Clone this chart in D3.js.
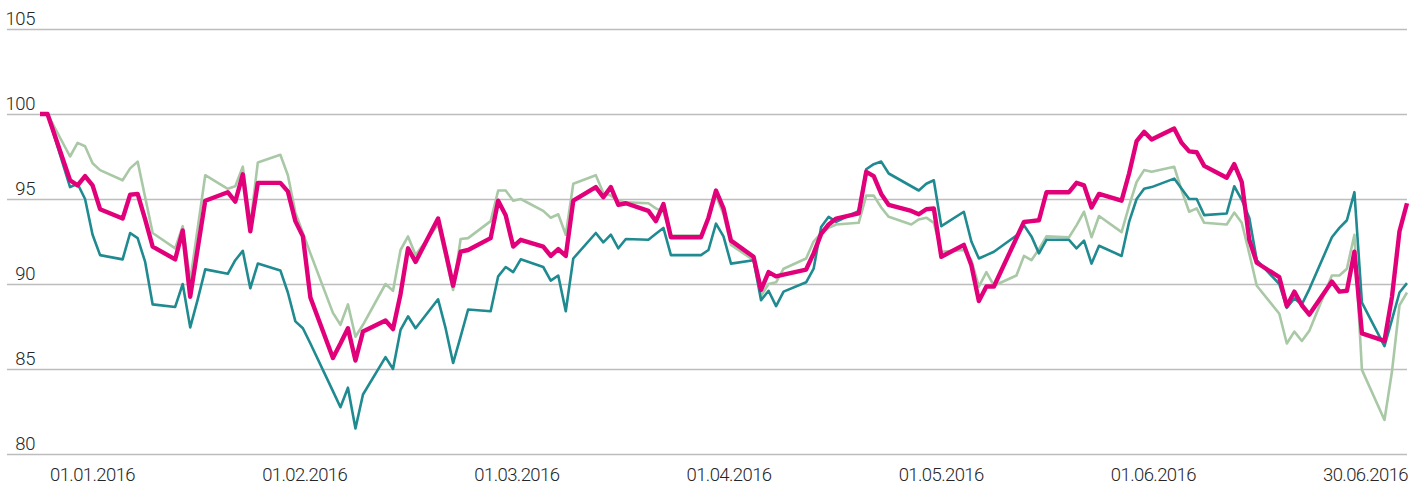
<!DOCTYPE html>
<html><head><meta charset="utf-8">
<script src="https://cdn.jsdelivr.net/npm/d3@7"></script>
<style>
html,body{margin:0;padding:0;background:#fff;}
svg{display:block;}
text{font-family:Roboto,"Liberation Sans",sans-serif;font-weight:300;fill:#262626;}
</style></head>
<body>
<svg id="chart" width="1422" height="486"></svg>
<script>
const dates = [
"2015-12-31","2016-01-01",
"2016-01-04","2016-01-05","2016-01-06","2016-01-07","2016-01-08",
"2016-01-11","2016-01-12","2016-01-13","2016-01-14","2016-01-15",
"2016-01-18","2016-01-19","2016-01-20","2016-01-21","2016-01-22",
"2016-01-25","2016-01-26","2016-01-27","2016-01-28","2016-01-29",
"2016-02-01","2016-02-02","2016-02-03","2016-02-04","2016-02-05",
"2016-02-08","2016-02-09","2016-02-10","2016-02-11","2016-02-12",
"2016-02-15","2016-02-16","2016-02-17","2016-02-18","2016-02-19",
"2016-02-22","2016-02-23","2016-02-24","2016-02-25","2016-02-26",
"2016-02-29","2016-03-01","2016-03-02","2016-03-03","2016-03-04",
"2016-03-07","2016-03-08","2016-03-09","2016-03-10","2016-03-11",
"2016-03-14","2016-03-15","2016-03-16","2016-03-17","2016-03-18",
"2016-03-21","2016-03-22","2016-03-23","2016-03-24","2016-03-25",
"2016-03-28","2016-03-29","2016-03-30","2016-03-31","2016-04-01",
"2016-04-04","2016-04-05","2016-04-06","2016-04-07","2016-04-08",
"2016-04-11","2016-04-12","2016-04-13","2016-04-14","2016-04-15",
"2016-04-18","2016-04-19","2016-04-20","2016-04-21","2016-04-22",
"2016-04-25","2016-04-26","2016-04-27","2016-04-28","2016-04-29",
"2016-05-02","2016-05-03","2016-05-04","2016-05-05","2016-05-06",
"2016-05-09","2016-05-10","2016-05-11","2016-05-12","2016-05-13",
"2016-05-16","2016-05-17","2016-05-18","2016-05-19","2016-05-20",
"2016-05-23","2016-05-24","2016-05-25","2016-05-26","2016-05-27",
"2016-05-30","2016-05-31","2016-06-01","2016-06-02","2016-06-03",
"2016-06-06","2016-06-07","2016-06-08","2016-06-09","2016-06-10",
"2016-06-13","2016-06-14","2016-06-15","2016-06-16","2016-06-17",
"2016-06-20","2016-06-21","2016-06-22","2016-06-23","2016-06-24",
"2016-06-27","2016-06-28","2016-06-29","2016-06-30"
];

// magenta (thick) series
const seriesMagenta = [
100,100,
96.1,95.8,96.35,95.8,94.4,
93.85,95.25,95.3,93.8,92.2,
91.45,93.15,89.25,92.1,94.9,
95.4,94.85,96.45,93.1,95.95,
95.95,95.45,93.7,92.8,89.2,
85.65,86.5,87.4,85.5,87.2,
87.85,87.35,89.4,92.1,91.3,
93.85,91.9,89.9,91.9,92.0,
92.7,94.9,94.05,92.2,92.6,
92.2,91.65,92.05,91.65,94.9,
95.7,95.1,95.7,94.65,94.75,
94.3,93.7,94.7,92.75,92.75,
92.75,93.9,95.5,94.45,92.55,
91.6,89.65,90.7,90.45,90.55,
90.85,91.8,92.95,93.5,93.85,
94.15,96.6,96.35,95.3,94.65,
94.3,94.1,94.4,94.45,91.6,
92.3,91.1,89.0,89.85,89.85,
92.7,93.65,93.7,93.75,95.4,
95.4,95.95,95.8,94.5,95.3,
94.9,96.5,98.4,98.95,98.5,
99.15,98.3,97.8,97.75,96.95,
96.25,97.05,96.0,92.6,91.25,
90.4,88.7,89.55,88.75,88.2,
90.15,89.55,89.6,91.9,87.1,
86.65,89.25,93.1,94.75
];

// teal series
const seriesTeal = [
100,100,
95.7,95.9,95.0,92.9,91.7,
91.45,93.0,92.7,91.3,88.8,
88.65,90.0,87.45,89.1,90.86,
90.6,91.4,91.95,89.75,91.2,
90.8,89.5,87.8,87.4,86.5,
83.7,82.75,83.9,81.5,83.5,
85.7,85.0,87.3,88.1,87.4,
89.1,87.4,85.35,86.9,88.5,
88.4,90.45,91.0,90.7,91.45,
91.0,90.2,90.5,88.4,91.5,
93.0,92.45,92.9,92.1,92.65,
92.6,92.95,93.3,91.7,91.7,
91.7,92.0,93.55,92.8,91.2,
91.4,89.05,89.6,88.7,89.55,
90.1,90.9,93.35,93.95,93.65,
94.3,96.75,97.05,97.2,96.5,
95.75,95.5,95.9,96.1,93.4,
94.25,92.5,91.5,91.7,91.9,
92.85,93.45,92.8,91.8,92.6,
92.6,92.1,92.55,91.2,92.25,
91.65,93.65,95.0,95.6,95.7,
96.2,95.6,95.0,95.0,94.05,
94.15,95.75,94.95,93.9,91.4,
90.0,88.6,89.15,88.8,89.7,
92.75,93.3,93.75,95.4,88.9,
86.35,87.9,89.5,90.05
];

// light green series
const seriesGreen = [
100,100,
97.5,98.3,98.1,97.1,96.7,
96.1,96.8,97.2,95.1,93.0,
92.1,93.4,90.2,93.3,96.4,
95.6,95.75,96.9,93.5,97.15,
97.6,96.4,94.2,93.0,91.8,
88.3,87.6,88.8,86.9,87.6,
90.0,89.6,92.0,92.8,91.7,
93.5,91.6,89.65,92.65,92.7,
93.7,95.5,95.5,94.9,95.0,
94.3,93.9,94.1,92.9,95.9,
96.4,95.35,95.2,94.9,94.8,
94.75,94.45,94.25,92.85,92.85,
92.85,93.9,95.2,94.1,92.3,
91.4,89.3,90.0,90.1,90.9,
91.5,92.5,93.0,93.3,93.5,
93.6,95.2,95.2,94.5,93.95,
93.5,93.8,93.9,93.6,91.9,
92.0,91.4,89.85,90.7,89.9,
90.5,91.65,91.4,92.05,92.8,
92.75,93.45,94.25,92.75,94.0,
93.05,94.6,96.0,96.7,96.6,
96.9,95.5,94.25,94.45,93.6,
93.5,94.2,93.6,91.8,89.9,
88.25,86.5,87.2,86.65,87.25,
90.5,90.5,90.9,92.9,84.95,
82.0,84.85,88.75,89.5
];

const yTicks = [80, 85, 90, 95, 100, 105];
const xLabels = ["01.01.2016","01.02.2016","01.03.2016","01.04.2016","01.05.2016","01.06.2016","30.06.2016"];

const svg = d3.select("#chart");
const parse = d3.timeParse("%Y-%m-%d");
const xDates = dates.map(parse);

const x = d3.scaleTime()
  .domain([parse("2015-12-31"), parse("2016-06-30")])
  .range([40, 1407]);
const y = d3.scaleLinear().domain([80, 105]).range([454, 29]);
const xLab = d3.scalePoint().domain(xLabels).range([92, 1365]);

// y grid + labels
const gy = svg.append("g").attr("transform", "translate(7,0)")
  .call(d3.axisLeft(y).tickValues(yTicks).tickSize(-1400).tickFormat(d3.format("d")));
gy.select(".domain").remove();
gy.selectAll(".tick line").attr("stroke", "#bdbdbd").attr("stroke-width", 1.3);
gy.selectAll(".tick text")
  .attr("x", 28).attr("dy", -5).attr("text-anchor", "end")
  .attr("font-size", 18.5).attr("letter-spacing", -0.4)
  .style("font-family", "Roboto, 'Liberation Sans', sans-serif").attr("fill", "#262626");

// x labels
const gx = svg.append("g").attr("transform", "translate(0,481)")
  .call(d3.axisBottom(xLab).tickSize(0));
gx.select(".domain").remove();
gx.selectAll(".tick text")
  .attr("y", 0).attr("dy", 0)
  .attr("font-size", 18.5).attr("letter-spacing", -0.6)
  .style("font-family", "Roboto, 'Liberation Sans', sans-serif").attr("fill", "#262626");

const line = d3.line().x((d, i) => x(xDates[i])).y(d => y(d));

svg.append("path").datum(seriesGreen)
  .attr("fill", "none").attr("stroke", "#a9c8a6").attr("stroke-width", 2.6)
  .attr("stroke-linejoin", "round").attr("d", line);
svg.append("path").datum(seriesTeal)
  .attr("fill", "none").attr("stroke", "#1f8a90").attr("stroke-width", 2.6)
  .attr("stroke-linejoin", "round").attr("d", line);
svg.append("path").datum(seriesMagenta)
  .attr("fill", "none").attr("stroke", "#e2007a").attr("stroke-width", 4.4)
  .attr("stroke-linejoin", "round").attr("d", line);
</script>
</body></html>
